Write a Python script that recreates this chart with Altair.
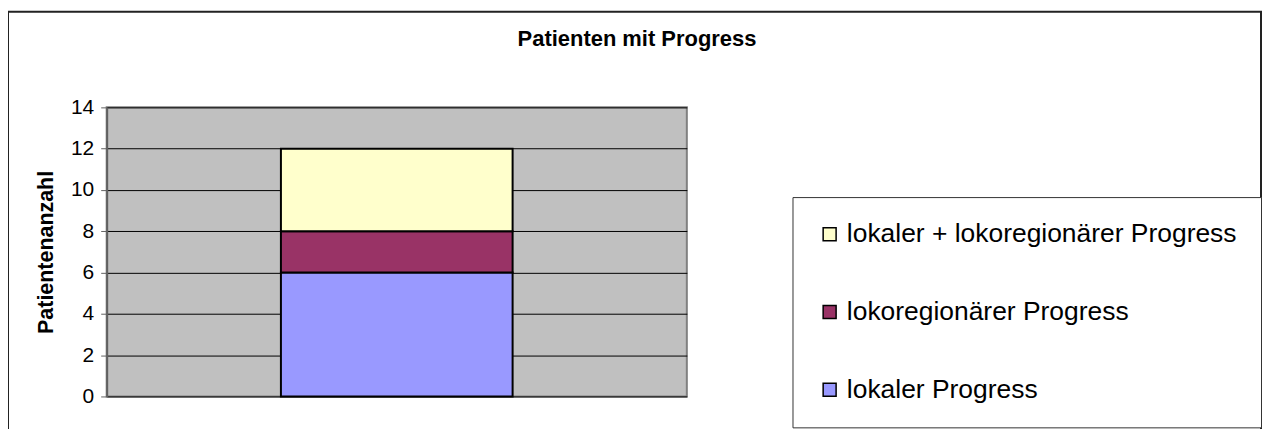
import altair as alt
import pandas as pd

categories = ["lokaler Progress", "lokoregionärer Progress", "lokaler + lokoregionärer Progress"]
values = [6, 2, 4]
stack_order = [0, 1, 2]
legend_order = ["lokaler + lokoregionärer Progress", "lokoregionärer Progress", "lokaler Progress"]
colors = ["#FFFFCC", "#993366", "#9999FF"]
y_ticks = [0, 2, 4, 6, 8, 10, 12, 14]

df = pd.DataFrame({"grp": ["Patienten"] * 3, "kat": categories, "n": values, "ord": stack_order})

FONT = "Liberation Sans"

frame = alt.Chart(pd.DataFrame({"a": [0]})).mark_rect(
    filled=False, stroke="#222222", strokeWidth=2
).encode(
    x=alt.value(-99), x2=alt.value(1158), y=alt.value(-96), y2=alt.value(340)
)

bars = alt.Chart(df).mark_bar(stroke="black", strokeWidth=2).encode(
    x=alt.X("grp:N", axis=None, scale=alt.Scale(paddingOuter=0.752, paddingInner=0)),
    y=alt.Y(
        "n:Q",
        stack="zero",
        scale=alt.Scale(domain=[0, 14], nice=False),
        axis=alt.Axis(
            values=y_ticks,
            title="Patientenanzahl",
            titleFont=FONT,
            titleFontSize=21.5,
            titleFontWeight="bold",
            titleColor="black",
            titlePadding=13,
            labelFont=FONT,
            labelFontSize=21,
            labelColor="black",
            labelPadding=7,
            tickSize=6,
            tickColor="#606060",
            domainColor="#606060",
            domainWidth=2,
            grid=True,
            gridColor="black",
            gridWidth=1,
            gridOpacity=1,
        ),
    ),
    color=alt.Color(
        "kat:N",
        scale=alt.Scale(domain=legend_order, range=colors),
        legend=alt.Legend(
            title=None,
            orient="none",
            legendX=688,
            legendY=90,
            strokeColor="#333333",
            fillColor="white",
            padding=24,
            symbolType="square",
            symbolSize=169,
            symbolStrokeColor="black",
            symbolStrokeWidth=1.5,
            symbolOpacity=1,
            labelFont=FONT,
            labelFontSize=26.5,
            labelColor="black",
            labelOffset=4,
            rowPadding=51,
            labelLimit=600,
        ),
    ),
    order=alt.Order("ord:Q", sort="ascending"),
)

chart = alt.layer(frame, bars).properties(
    width=582,
    height=290,
    title=alt.TitleParams(
        "Patienten mit Progress",
        font=FONT,
        fontSize=22,
        fontWeight="bold",
        color="black",
        anchor="middle",
        baseline="alphabetic",
        dx=241,
        offset=-57,
    ),
    autosize=alt.AutoSizeParams(type="none"),
    padding={"left": 99, "top": 99, "right": 578, "bottom": 40},
).configure_view(
    fill="#C0C0C0", stroke="#808080", strokeWidth=2
)

chart.save("out.html", embed_options={"renderer": "svg", "actions": False})
